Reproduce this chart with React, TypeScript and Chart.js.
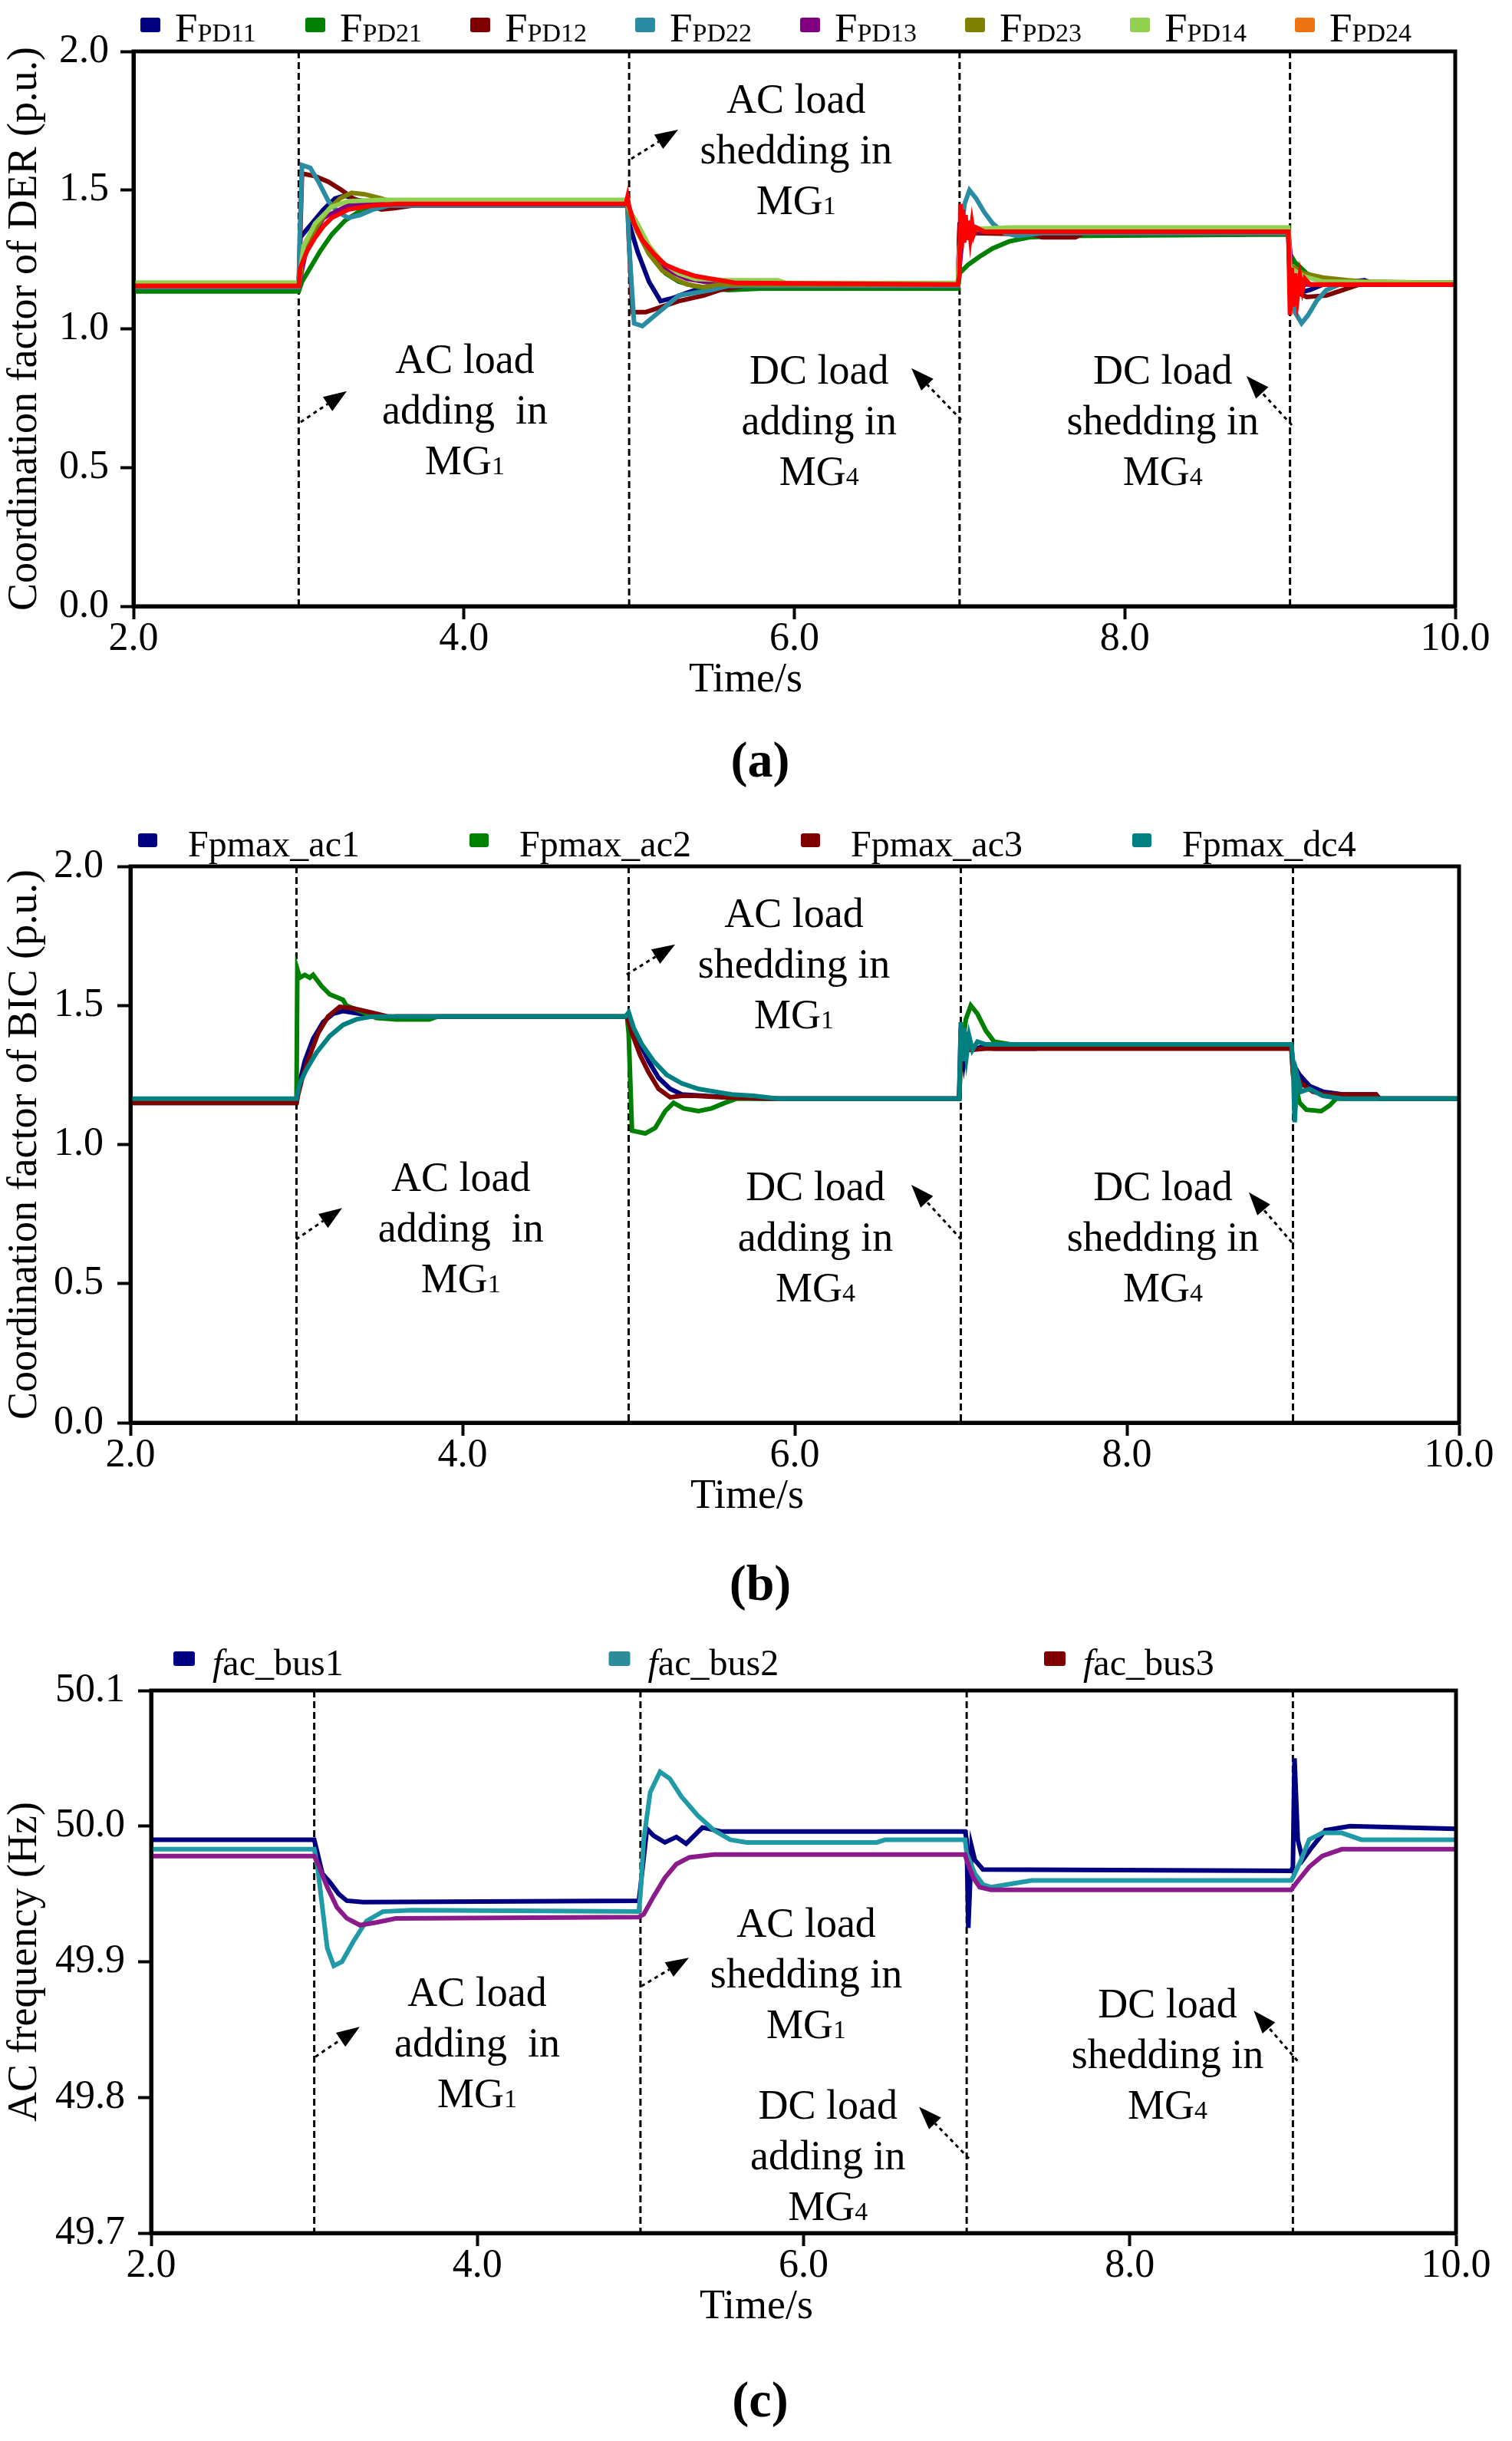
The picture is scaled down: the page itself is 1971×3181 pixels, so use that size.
import React, { useEffect, useRef } from 'react';
import { Chart, registerables } from 'chart.js';

Chart.register(...registerables);

const SERIF = '"Liberation Serif", "Times New Roman", serif';

type Pt = [number, number];

// ---------- Panel (a): coordination factor of DER ----------
const FPD11: Pt[] = [[2,1.15],[3,1.15],[3.01,1.33],[3.08,1.38],[3.15,1.43],[3.22,1.47],[3.28,1.48],[3.35,1.465],[3.5,1.45],[4.99,1.45],[5.0,1.38],[5.05,1.28],[5.12,1.17],[5.19,1.1],[5.26,1.11],[5.35,1.13],[5.45,1.15],[5.6,1.155],[6.99,1.155],[7.0,1.37],[7.05,1.35],[7.2,1.345],[8.99,1.35],[9.0,1.2],[9.05,1.13],[9.12,1.14],[9.2,1.16],[9.45,1.175],[9.5,1.165],[10,1.165]];
const FPD21: Pt[] = [[2,1.135],[3,1.135],[3.02,1.17],[3.07,1.22],[3.13,1.28],[3.2,1.34],[3.28,1.39],[3.36,1.42],[3.5,1.44],[3.7,1.445],[4.99,1.445],[5.02,1.4],[5.08,1.32],[5.15,1.25],[5.22,1.2],[5.3,1.17],[5.42,1.15],[5.6,1.14],[5.8,1.145],[6.99,1.145],[7.0,1.2],[7.05,1.23],[7.12,1.26],[7.2,1.29],[7.3,1.315],[7.42,1.33],[7.6,1.335],[8.99,1.34],[9.0,1.27],[9.03,1.24],[9.1,1.2],[9.18,1.18],[9.3,1.17],[9.45,1.165],[10,1.165]];
const FPD12: Pt[] = [[2,1.15],[3,1.15],[3.02,1.56],[3.1,1.55],[3.18,1.53],[3.26,1.5],[3.33,1.47],[3.4,1.45],[3.5,1.43],[3.58,1.435],[3.7,1.445],[4.99,1.445],[5.0,1.3],[5.02,1.06],[5.1,1.06],[5.2,1.08],[5.3,1.1],[5.45,1.12],[5.55,1.14],[5.7,1.155],[6.99,1.155],[7.0,1.36],[7.1,1.345],[7.45,1.34],[7.5,1.33],[7.7,1.33],[7.75,1.345],[8.99,1.345],[9.0,1.18],[9.05,1.13],[9.1,1.115],[9.22,1.12],[9.32,1.14],[9.42,1.16],[10,1.16]];
const FPD22: Pt[] = [[2,1.15],[3,1.15],[3.005,1.3],[3.02,1.59],[3.07,1.58],[3.12,1.53],[3.18,1.46],[3.24,1.42],[3.3,1.4],[3.37,1.41],[3.45,1.43],[3.55,1.445],[4.99,1.445],[5.0,1.3],[5.03,1.02],[5.08,1.01],[5.14,1.04],[5.22,1.08],[5.3,1.12],[5.4,1.13],[5.5,1.14],[5.6,1.155],[6.99,1.155],[7.0,1.3],[7.03,1.45],[7.06,1.5],[7.1,1.47],[7.15,1.42],[7.2,1.38],[7.27,1.345],[7.35,1.335],[7.5,1.345],[8.99,1.345],[9.0,1.15],[9.03,1.06],[9.07,1.02],[9.11,1.05],[9.16,1.1],[9.22,1.14],[9.3,1.16],[10,1.165]];
const FPD13: Pt[] = [[2,1.155],[3,1.155],[3.05,1.3],[3.15,1.4],[3.3,1.445],[3.5,1.45],[4.99,1.45],[5.05,1.35],[5.2,1.22],[5.35,1.18],[5.5,1.165],[6.99,1.16],[7.02,1.35],[7.1,1.35],[8.99,1.35],[9.02,1.15],[9.1,1.16],[10,1.16]];
const FPD23: Pt[] = [[2,1.155],[3,1.155],[3.03,1.28],[3.1,1.36],[3.18,1.43],[3.25,1.47],[3.32,1.49],[3.4,1.485],[3.5,1.47],[3.55,1.46],[3.65,1.455],[4.99,1.455],[5.0,1.42],[5.05,1.35],[5.12,1.27],[5.2,1.21],[5.28,1.18],[5.35,1.16],[5.45,1.15],[5.55,1.16],[6.99,1.16],[7.0,1.3],[7.05,1.36],[7.2,1.355],[8.99,1.355],[9.0,1.23],[9.08,1.2],[9.2,1.185],[9.35,1.175],[9.45,1.17],[10,1.165]];
const FPD14: Pt[] = [[2,1.167],[3,1.167],[3.03,1.3],[3.1,1.38],[3.2,1.44],[3.3,1.46],[3.5,1.465],[4.99,1.465],[5.0,1.43],[5.05,1.38],[5.12,1.3],[5.2,1.24],[5.3,1.2],[5.4,1.18],[5.6,1.175],[5.9,1.175],[5.95,1.165],[6.99,1.165],[7.0,1.3],[7.08,1.36],[7.3,1.365],[8.99,1.365],[9.0,1.22],[9.08,1.19],[9.2,1.17],[10,1.165]];
const FPD24: Pt[] = [[2,1.155],[3,1.155],[3.01,1.22],[3.05,1.28],[3.1,1.33],[3.15,1.37],[3.2,1.4],[3.3,1.43],[3.45,1.445],[3.6,1.45],[4.98,1.45],[4.99,1.475],[5.0,1.44],[5.03,1.38],[5.08,1.32],[5.15,1.27],[5.22,1.23],[5.3,1.21],[5.4,1.19],[5.5,1.18],[5.65,1.165],[6.99,1.16],[7.0,1.2],[7.005,1.45],[7.012,1.29],[7.02,1.43],[7.028,1.31],[7.036,1.41],[7.045,1.32],[7.055,1.39],[7.065,1.33],[7.075,1.38],[7.085,1.34],[7.1,1.365],[7.15,1.35],[8.99,1.35],[9.0,1.05],[9.01,1.22],[9.02,1.08],[9.03,1.2],[9.045,1.11],[9.06,1.19],[9.075,1.14],[9.09,1.18],[9.12,1.16],[10,1.16]];

// ---------- Panel (b): coordination factor of BIC ----------
const FPMAX_AC1: Pt[] = [[2,1.15],[3,1.15],[3.01,1.2],[3.05,1.3],[3.1,1.38],[3.16,1.44],[3.22,1.47],[3.28,1.48],[3.38,1.47],[3.5,1.455],[3.6,1.46],[4.99,1.46],[5.02,1.42],[5.07,1.36],[5.12,1.3],[5.18,1.24],[5.25,1.2],[5.32,1.18],[5.45,1.175],[5.6,1.17],[5.8,1.165],[6.99,1.165],[7.0,1.42],[7.02,1.3],[7.04,1.38],[7.07,1.34],[7.12,1.35],[7.2,1.345],[7.45,1.345],[7.5,1.355],[8.99,1.355],[9.0,1.29],[9.04,1.25],[9.1,1.21],[9.18,1.19],[9.3,1.18],[9.5,1.18],[9.52,1.165],[10,1.165]];
const FPMAX_AC2: Pt[] = [[2,1.155],[3,1.155],[3.005,1.63],[3.02,1.6],[3.05,1.61],[3.08,1.6],[3.1,1.61],[3.15,1.57],[3.2,1.54],[3.28,1.52],[3.3,1.5],[3.38,1.48],[3.48,1.455],[3.6,1.45],[3.8,1.45],[3.85,1.46],[4.99,1.46],[5.0,1.4],[5.02,1.05],[5.1,1.04],[5.16,1.06],[5.22,1.12],[5.27,1.15],[5.33,1.13],[5.42,1.12],[5.5,1.13],[5.58,1.15],[5.65,1.165],[6.99,1.165],[7.0,1.3],[7.03,1.45],[7.06,1.5],[7.1,1.47],[7.15,1.41],[7.2,1.37],[7.3,1.36],[8.99,1.36],[9.0,1.25],[9.04,1.15],[9.08,1.125],[9.17,1.12],[9.22,1.14],[9.26,1.165],[10,1.165]];
const FPMAX_AC3: Pt[] = [[2,1.15],[3,1.15],[3.01,1.18],[3.04,1.25],[3.08,1.32],[3.13,1.4],[3.19,1.46],[3.26,1.495],[3.34,1.49],[3.45,1.475],[3.55,1.46],[4.99,1.46],[5.02,1.4],[5.07,1.32],[5.12,1.26],[5.18,1.2],[5.25,1.17],[5.32,1.175],[5.4,1.175],[5.55,1.17],[5.9,1.165],[6.99,1.165],[7.0,1.35],[7.05,1.34],[7.15,1.345],[8.99,1.345],[9.0,1.26],[9.05,1.22],[9.12,1.19],[9.2,1.18],[9.5,1.18],[9.52,1.165],[10,1.165]];
const FPMAX_DC4: Pt[] = [[2,1.165],[3,1.165],[3.02,1.22],[3.06,1.27],[3.12,1.33],[3.2,1.39],[3.28,1.43],[3.36,1.45],[3.45,1.46],[4.98,1.46],[5.0,1.475],[5.03,1.42],[5.08,1.36],[5.15,1.3],[5.23,1.25],[5.32,1.22],[5.42,1.2],[5.52,1.19],[5.62,1.18],[5.75,1.175],[5.9,1.165],[6.99,1.165],[7.0,1.44],[7.01,1.3],[7.02,1.42],[7.035,1.32],[7.05,1.39],[7.07,1.34],[7.1,1.37],[7.15,1.36],[8.99,1.36],[9.0,1.3],[9.01,1.08],[9.025,1.25],[9.05,1.19],[9.1,1.2],[9.18,1.175],[9.3,1.165],[10,1.165]];

// ---------- Panel (c): AC frequency ----------
const FAC_BUS1: Pt[] = [[2,49.99],[3,49.99],[3.01,49.985],[3.05,49.965],[3.1,49.958],[3.15,49.95],[3.2,49.945],[3.3,49.944],[4.99,49.945],[5.0,49.955],[5.04,49.998],[5.08,49.993],[5.15,49.988],[5.22,49.992],[5.28,49.987],[5.38,49.999],[5.5,49.996],[6.99,49.996],[7.0,49.99],[7.01,49.925],[7.03,49.985],[7.05,49.975],[7.1,49.968],[8.99,49.967],[9.0,49.97],[9.01,50.05],[9.03,49.99],[9.06,49.975],[9.12,49.985],[9.2,49.997],[9.35,50.0],[10,49.998]];
const FAC_BUS2: Pt[] = [[2,49.983],[3,49.983],[3.02,49.97],[3.05,49.94],[3.08,49.91],[3.12,49.897],[3.17,49.9],[3.24,49.915],[3.32,49.93],[3.42,49.937],[3.6,49.938],[4.99,49.937],[5.0,49.95],[5.02,49.99],[5.06,50.025],[5.12,50.04],[5.18,50.035],[5.25,50.022],[5.35,50.008],[5.45,49.997],[5.55,49.99],[5.65,49.988],[6.45,49.988],[6.5,49.99],[6.99,49.99],[7.0,49.98],[7.05,49.965],[7.1,49.957],[7.15,49.955],[7.3,49.958],[7.4,49.96],[8.99,49.96],[9.0,49.962],[9.05,49.975],[9.1,49.99],[9.18,49.995],[9.3,49.995],[9.42,49.99],[10,49.99]];
const FAC_BUS3: Pt[] = [[2,49.978],[3,49.978],[3.03,49.97],[3.08,49.955],[3.14,49.94],[3.2,49.932],[3.28,49.927],[3.38,49.929],[3.5,49.932],[4.99,49.933],[5.02,49.935],[5.08,49.948],[5.15,49.962],[5.22,49.972],[5.3,49.977],[5.45,49.979],[6.99,49.979],[7.0,49.975],[7.04,49.962],[7.08,49.955],[7.15,49.953],[8.99,49.953],[9.02,49.958],[9.1,49.97],[9.18,49.978],[9.3,49.983],[10,49.983]];

// ---------- Axis ticks / events ----------
const X_MIN = 2, X_MAX = 10, X_STEP = 2;
const EVENT_TIMES = [3, 5, 7, 9];
const Y_A = { min: 0, max: 2, step: 0.5 };
const Y_B = { min: 0, max: 2, step: 0.5 };
const Y_C = { min: 49.7, max: 50.1, step: 0.1 };
const X_TITLE = 'Time/s';

type Seg = { text: string; size: number; italic?: boolean };
type Series = { pts: Pt[]; color: string; legendColor: string; label: Seg[] };
type Note = { t: number; v: number; lines: string[] };
type Arrow = [number, number, number, number];

const NOTE_SIZE = 54;
const NOTE_LINE = 66;

const lpd = (n: string): Seg[] => [{ text: 'F', size: 53 }, { text: 'PD' + n, size: 34 }];

const SERIES_A: Series[] = [
  { pts: FPD11, color: '#000080', legendColor: '#000080', label: lpd('11') },
  { pts: FPD21, color: '#008000', legendColor: '#008000', label: lpd('21') },
  { pts: FPD12, color: '#800000', legendColor: '#800000', label: lpd('12') },
  { pts: FPD22, color: '#2A8CA2', legendColor: '#2A8CA2', label: lpd('22') },
  { pts: FPD13, color: '#800080', legendColor: '#800080', label: lpd('13') },
  { pts: FPD23, color: '#808000', legendColor: '#808000', label: lpd('23') },
  { pts: FPD14, color: '#92D050', legendColor: '#92D050', label: lpd('14') },
  { pts: FPD24, color: '#FF0000', legendColor: '#EE7411', label: lpd('24') },
];
const SERIES_B: Series[] = [
  { pts: FPMAX_AC1, color: '#000080', legendColor: '#000080', label: [{ text: 'Fpmax_ac1', size: 48 }] },
  { pts: FPMAX_AC2, color: '#008000', legendColor: '#008000', label: [{ text: 'Fpmax_ac2', size: 48 }] },
  { pts: FPMAX_AC3, color: '#800000', legendColor: '#800000', label: [{ text: 'Fpmax_ac3', size: 48 }] },
  { pts: FPMAX_DC4, color: '#008080', legendColor: '#008080', label: [{ text: 'Fpmax_dc4', size: 48 }] },
];
const SERIES_C: Series[] = [
  { pts: FAC_BUS1, color: '#000080', legendColor: '#000080', label: [{ text: 'f', size: 48, italic: true }, { text: 'ac_bus1', size: 48 }] },
  { pts: FAC_BUS2, color: '#1F9AA6', legendColor: '#2E8B9A', label: [{ text: 'f', size: 48, italic: true }, { text: 'ac_bus2', size: 48 }] },
  { pts: FAC_BUS3, color: '#8B1A8B', legendColor: '#800000', label: [{ text: 'f', size: 48, italic: true }, { text: 'ac_bus3', size: 48 }] },
];

const NOTES_A: Note[] = [
  { t: 6.01, v: 1.646, lines: ['AC load', 'shedding in', 'MG1'] },
  { t: 4.006, v: 0.708, lines: ['AC load', 'adding  in', 'MG1'] },
  { t: 6.15, v: 0.669, lines: ['DC load', 'adding in', 'MG4'] },
  { t: 8.23, v: 0.669, lines: ['DC load', 'shedding in', 'MG4'] },
];
const ARROWS_A: Arrow[] = [[3.012, 0.664, 3.291, 0.775], [5.013, 1.613, 5.297, 1.718], [7.01, 0.672, 6.708, 0.858], [9.011, 0.653, 8.737, 0.83]];

const NOTES_B: Note[] = [
  { t: 5.995, v: 1.65, lines: ['AC load', 'shedding in', 'MG1'] },
  { t: 3.99, v: 0.701, lines: ['AC load', 'adding  in', 'MG1'] },
  { t: 6.125, v: 0.668, lines: ['DC load', 'adding in', 'MG4'] },
  { t: 8.217, v: 0.668, lines: ['DC load', 'shedding in', 'MG4'] },
];
const ARROWS_B: Arrow[] = [[2.998, 0.659, 3.275, 0.772], [4.988, 1.611, 5.28, 1.719], [7.002, 0.659, 6.702, 0.855], [8.993, 0.648, 8.734, 0.828]];

const NOTES_C: Note[] = [
  { t: 3.999, v: 49.84, lines: ['AC load', 'adding  in', 'MG1'] },
  { t: 6.017, v: 49.891, lines: ['AC load', 'shedding in', 'MG1'] },
  { t: 6.149, v: 49.757, lines: ['DC load', 'adding in', 'MG4'] },
  { t: 8.232, v: 49.832, lines: ['DC load', 'shedding in', 'MG4'] },
];
const ARROWS_C: Arrow[] = [[3.007, 49.83, 3.279, 49.852], [5.006, 49.882, 5.297, 49.903], [7.014, 49.755, 6.708, 49.793], [9.028, 49.827, 8.76, 49.864]];

type Legend = { x0: number; step: number; textDx: number; boxTop: number; boxW: number; boxH: number; baseline: number };

type PanelCfg = {
  top: number; height: number;
  padTop: number; padRight: number; padBottom: number; yWidth: number; xHeight: number;
  yTickPad: number;
  xTitleX: number;
  y: { min: number; max: number; step: number };
  yTitle: string;
  series: Series[];
  legend: Legend;
  notes: Note[];
  arrows: Arrow[];
};

const PANELS: PanelCfg[] = [
  {
    top: 0, height: 960, padTop: 67, padRight: 74, padBottom: 30, yWidth: 174, xHeight: 140, yTickPad: 15, xTitleX: 972,
    y: Y_A, yTitle: 'Coordination factor of DER (p.u.)', series: SERIES_A,
    legend: { x0: 183, step: 215, textDx: 45, boxTop: 23, boxW: 26, boxH: 19, baseline: 54 },
    notes: NOTES_A, arrows: ARROWS_A,
  },
  {
    top: 1040, height: 960, padTop: 89, padRight: 69, padBottom: 6, yWidth: 170, xHeight: 140, yTickPad: 18, xTitleX: 974,
    y: Y_B, yTitle: 'Coordination factor of BIC (p.u.)', series: SERIES_B,
    legend: { x0: 180, step: 432, textDx: 65, boxTop: 46, boxW: 25, boxH: 18, baseline: 76 },
    notes: NOTES_B, arrows: ARROWS_B,
  },
  {
    top: 2110, height: 960, padTop: 93, padRight: 73, padBottom: 20, yWidth: 197, xHeight: 140, yTickPad: 17, xTitleX: 986,
    y: Y_C, yTitle: 'AC frequency (Hz)', series: SERIES_C,
    legend: { x0: 226, step: 567.5, textDx: 51, boxTop: 42, boxW: 28, boxH: 19, baseline: 73 },
    notes: NOTES_C, arrows: ARROWS_C,
  },
];

function font(size: number, italic?: boolean) {
  return `${italic ? 'italic ' : ''}${size}px ${SERIF}`;
}

function drawSegs(ctx: CanvasRenderingContext2D, segs: Seg[], x: number, baseline: number, align: 'left' | 'center') {
  ctx.textAlign = 'left';
  ctx.textBaseline = 'alphabetic';
  let total = 0;
  for (const s of segs) {
    ctx.font = font(s.size, s.italic);
    total += ctx.measureText(s.text).width;
  }
  let cx = align === 'center' ? x - total / 2 : x;
  for (const s of segs) {
    ctx.font = font(s.size, s.italic);
    ctx.fillText(s.text, cx, baseline);
    cx += ctx.measureText(s.text).width;
  }
}

function noteSegs(line: string): Seg[] {
  const m = /^MG(\d)$/.exec(line);
  if (m) return [{ text: 'MG', size: NOTE_SIZE }, { text: m[1], size: 34 }];
  return [{ text: line, size: NOTE_SIZE }];
}

function makeOverlay(cfg: PanelCfg) {
  return {
    id: 'overlay',
    beforeDatasetsDraw(chart: any) {
      const { ctx, chartArea } = chart;
      const xs = chart.scales.x;
      ctx.save();
      ctx.strokeStyle = '#000';
      ctx.lineWidth = 3;
      ctx.setLineDash([9, 5]);
      for (const t of EVENT_TIMES) {
        const px = xs.getPixelForValue(t);
        ctx.beginPath();
        ctx.moveTo(px, chartArea.top);
        ctx.lineTo(px, chartArea.bottom);
        ctx.stroke();
      }
      ctx.restore();
    },
    afterDraw(chart: any) {
      const { ctx, chartArea } = chart;
      const xs = chart.scales.x;
      const ys = chart.scales.y;
      ctx.save();
      // frame
      ctx.strokeStyle = '#000';
      ctx.lineWidth = 5;
      ctx.setLineDash([]);
      ctx.strokeRect(chartArea.left, chartArea.top, chartArea.right - chartArea.left, chartArea.bottom - chartArea.top);
      // x-axis title
      ctx.fillStyle = '#000';
      drawSegs(ctx, [{ text: X_TITLE, size: 54 }], cfg.xTitleX, chartArea.bottom + 93 + 54 * 0.33, 'center');
      // notes
      for (const n of cfg.notes) {
        const cx = xs.getPixelForValue(n.t);
        const cy = ys.getPixelForValue(n.v);
        n.lines.forEach((line, i) => {
          const y = cy + (i - (n.lines.length - 1) / 2) * NOTE_LINE + NOTE_SIZE * 0.33;
          drawSegs(ctx, noteSegs(line), cx, y, 'center');
        });
      }
      // arrows
      for (const a of cfg.arrows) {
        const x0 = xs.getPixelForValue(a[0]);
        const y0 = ys.getPixelForValue(a[1]);
        const x1 = xs.getPixelForValue(a[2]);
        const y1 = ys.getPixelForValue(a[3]);
        const dx = x1 - x0, dy = y1 - y0;
        const len = Math.hypot(dx, dy);
        const ux = dx / len, uy = dy / len;
        const head = 30, half = 11;
        const bx = x1 - ux * head, by = y1 - uy * head;
        ctx.lineWidth = 3;
        ctx.setLineDash([5, 5]);
        ctx.beginPath();
        ctx.moveTo(x0, y0);
        ctx.lineTo(bx, by);
        ctx.stroke();
        ctx.setLineDash([]);
        ctx.beginPath();
        ctx.moveTo(x1, y1);
        ctx.lineTo(bx - uy * half, by + ux * half);
        ctx.lineTo(bx + uy * half, by - ux * half);
        ctx.closePath();
        ctx.fill();
      }
      // legend
      const L = cfg.legend;
      cfg.series.forEach((s, i) => {
        const bx = L.x0 + i * L.step;
        ctx.fillStyle = s.legendColor;
        ctx.beginPath();
        if ((ctx as any).roundRect) (ctx as any).roundRect(bx, L.boxTop, L.boxW, L.boxH, 3);
        else ctx.rect(bx, L.boxTop, L.boxW, L.boxH);
        ctx.fill();
        ctx.fillStyle = '#000';
        drawSegs(ctx, s.label, bx + L.textDx, L.baseline, 'left');
      });
      ctx.restore();
    },
  };
}

function Panel({ cfg }: { cfg: PanelCfg }) {
  const ref = useRef<HTMLCanvasElement | null>(null);
  useEffect(() => {
    if (!ref.current) return;
    const n = cfg.series.length;
    const chart = new Chart(ref.current, {
      type: 'line',
      data: {
        datasets: cfg.series.map((s, i) => ({
          data: s.pts.map(([x, y]) => ({ x, y })),
          borderColor: s.color,
          backgroundColor: s.color,
          borderWidth: 6,
          pointRadius: 0,
          tension: 0,
          fill: false,
          order: n - i,
        })),
      },
      options: {
        animation: false,
        responsive: false,
        maintainAspectRatio: false,
        devicePixelRatio: 1,
        events: [],
        layout: { padding: { top: cfg.padTop, left: 0, right: cfg.padRight, bottom: cfg.padBottom } },
        plugins: { legend: { display: false }, tooltip: { enabled: false }, title: { display: false } },
        scales: {
          x: {
            type: 'linear',
            min: X_MIN,
            max: X_MAX,
            ticks: {
              stepSize: X_STEP,
              autoSkip: false,
              maxRotation: 0,
              padding: 0,
              color: '#000',
              font: { family: SERIF, size: 52, lineHeight: 1 },
              callback: (v: any) => Number(v).toFixed(1),
            },
            grid: { display: true, drawOnChartArea: false, drawTicks: true, tickLength: 17, tickWidth: 4, tickColor: '#000' },
            border: { display: true, color: '#000', width: 5 },
            title: { display: false },
            afterFit: (s: any) => { s.height = cfg.xHeight; },
          },
          y: {
            type: 'linear',
            min: cfg.y.min,
            max: cfg.y.max,
            ticks: {
              stepSize: cfg.y.step,
              autoSkip: false,
              padding: cfg.yTickPad,
              color: '#000',
              font: { family: SERIF, size: 52, lineHeight: 1 },
              callback: (v: any) => Number(v).toFixed(1),
            },
            grid: { display: true, drawOnChartArea: false, drawTicks: true, tickLength: 17, tickWidth: 4, tickColor: '#000' },
            border: { display: true, color: '#000', width: 5 },
            title: { display: true, text: cfg.yTitle, color: '#000', font: { family: SERIF, size: 54 }, padding: { top: 0, bottom: 0 } },
            afterFit: (s: any) => { s.width = cfg.yWidth; },
          },
        },
      } as any,
      plugins: [makeOverlay(cfg)],
    });
    return () => chart.destroy();
  }, [cfg]);
  return (
    <canvas
      ref={ref}
      width={1971}
      height={cfg.height}
      style={{ position: 'absolute', left: 0, top: cfg.top, width: 1971, height: cfg.height }}
    />
  );
}

const CAPTIONS = [
  { text: '(a)', cy: 990 },
  { text: '(b)', cy: 2063 },
  { text: '(c)', cy: 3127 },
];

export default function App() {
  return (
    <div style={{ position: 'absolute', left: 0, top: 0, width: 1971, height: 3181, background: '#fff', overflow: 'hidden' }}>
      {PANELS.map((p, i) => <Panel key={i} cfg={p} />)}
      {CAPTIONS.map((c) => (
        <div
          key={c.text}
          style={{
            position: 'absolute', left: 791, width: 400, top: c.cy - 40, height: 80, lineHeight: '80px',
            textAlign: 'center', fontFamily: SERIF, fontSize: 66, fontWeight: 'bold', color: '#000',
          }}
        >
          {c.text}
        </div>
      ))}
    </div>
  );
}
